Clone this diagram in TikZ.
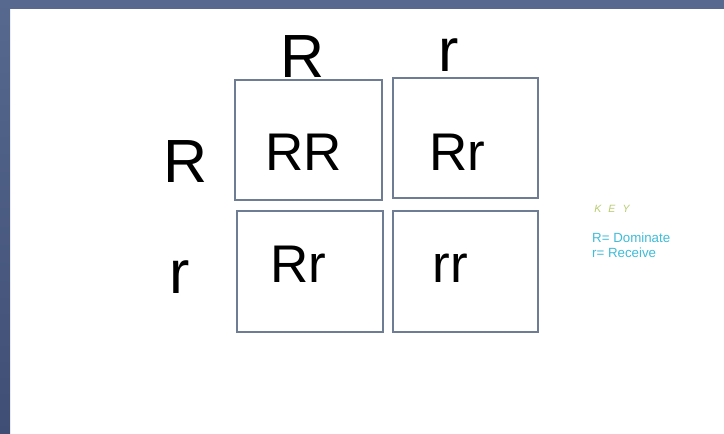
\documentclass[tikz,border=0pt]{standalone}
\usepackage{fontspec}
\setmainfont{Liberation Sans}
\definecolor{bandtop}{HTML}{57698F}
\definecolor{bandbot}{HTML}{3F4E75}
\definecolor{boxline}{HTML}{6E7C94}
\definecolor{keygreen}{HTML}{B8CC6E}
\definecolor{keycyan}{HTML}{40BCD8}
\begin{document}
\begin{tikzpicture}[x=1pt,y=-1pt,
  cell/.style={draw=boxline,line width=1.8pt,inner sep=0pt},
  biglab/.style={anchor=base,inner sep=0pt,font=\fontsize{61}{61}\selectfont},
  celltxt/.style={anchor=base,inner sep=0pt,font=\fontsize{53}{53}\selectfont},
  keytxt/.style={anchor=base west,inner sep=0pt,text=keycyan,font=\fontsize{13.3}{13.3}\selectfont}]
\useasboundingbox (0,0) rectangle (724,434);
\fill[white] (0,0) rectangle (724,434);
\fill[bandtop] (0,0) rectangle (724,9);
\shade[top color=bandtop,bottom color=bandbot] (0,0) rectangle (10,434);
% boxes
\node[cell,minimum width=147pt,minimum height=120pt] (b11) at (308.5,140) {};
\node[cell,minimum width=145pt,minimum height=120pt] (b12) at (465.5,138) {};
\node[cell,minimum width=146pt,minimum height=121pt] (b21) at (310,271.5) {};
\node[cell,minimum width=145pt,minimum height=121pt] (b22) at (465.5,271.5) {};
% headers
\node[biglab] (hR) at (302.5,77) {R};
\node[biglab] (hr) at (449,71) {r};
\node[biglab] (vR) at (186,182) {R};
\node[biglab] (vr) at (180,293) {r};
% cell texts
\node[celltxt] (t11) at (304,170) {RR};
\node[celltxt] (t12) at (457.5,170) {Rr};
\node[celltxt] (t21) at (298.5,282) {Rr};
\node[celltxt] (t22) at (450,282) {rr};
% key
\node[anchor=base,inner sep=0pt,text=keygreen,font=\fontsize{10.5}{10.5}\selectfont\itshape] (key) at (612,212) {K\hspace{7pt}E\hspace{7pt}Y};
\node[keytxt] (k1) at (592,242) {R= Dominate};
\node[keytxt] (k2) at (592,257) {r= Receive};
\end{tikzpicture}
\end{document}
